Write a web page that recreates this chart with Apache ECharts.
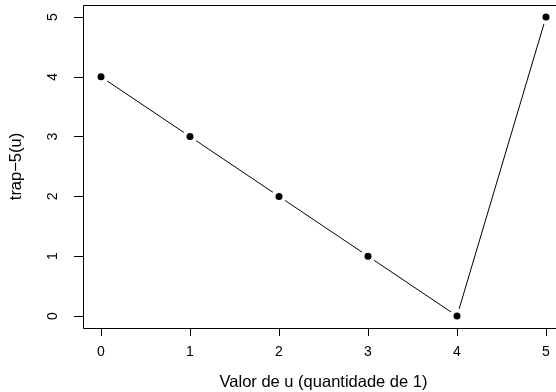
<!DOCTYPE html>
<html><head><meta charset="utf-8">
<script src="https://cdn.jsdelivr.net/npm/echarts@6/dist/echarts.min.js"></script>
<style>html,body{margin:0;padding:0;background:#fff}#c{width:556px;height:392px}</style>
</head><body><div id="c"></div>
<script>
const uValues = [0, 1, 2, 3, 4, 5];
const trapValues = [4, 3, 2, 1, 0, 5];
const xTitle = 'Valor de u (quantidade de 1)';
const yTitle = 'trap\u22125(u)';
const font = 'Liberation Sans, Arial, Helvetica, sans-serif';
const pts = uValues.map((u, i) => [u, trapValues[i]]);
const chart = echarts.init(document.getElementById('c'), null, {renderer: 'canvas'});
chart.setOption({
  animation: false,
  backgroundColor: '#fff',
  grid: {left: 101, right: 10, top: 17, bottom: 76, containLabel: false, outerBoundsMode: 'none'},
  graphic: [{type: 'rect', shape: {x: 83.5, y: 5.5, width: 481, height: 323}, style: {fill: 'none', stroke: '#000', lineWidth: 1}, z: 100, silent: true}],
  xAxis: {
    type: 'value', min: 0, max: 5, interval: 1, offset: 12,
    axisLine: {show: true, onZero: false, lineStyle: {color: '#000', width: 1}},
    axisTick: {show: true, length: 8, lineStyle: {color: '#000'}},
    axisLabel: {color: '#000', fontSize: 14, fontFamily: font, margin: 17},
    splitLine: {show: false},
    name: xTitle, nameLocation: 'middle', nameGap: 46,
    nameTextStyle: {color: '#000', fontSize: 16.5, fontFamily: font}
  },
  yAxis: {
    type: 'value', min: 0, max: 5, interval: 1, offset: 18,
    axisLine: {show: true, onZero: false, lineStyle: {color: '#000', width: 1}},
    axisTick: {show: true, length: 9, lineStyle: {color: '#000'}},
    axisLabel: {color: '#000', fontSize: 14, fontFamily: font, margin: 23, rotate: 90},
    splitLine: {show: false},
    name: yTitle, nameLocation: 'middle', nameGap: 58,
    nameTextStyle: {color: '#000', fontSize: 16.5, fontFamily: font}
  },
  series: [
    {type: 'line', data: pts, symbol: 'none', lineStyle: {color: '#000', width: 1}, z: 2},
    {type: 'scatter', data: pts, symbol: 'circle', symbolSize: 15, itemStyle: {color: '#fff', opacity: 1}, z: 3},
    {type: 'scatter', data: pts, symbol: 'circle', symbolSize: 7, itemStyle: {color: '#000', opacity: 1}, z: 4}
  ]
});
</script></body></html>
